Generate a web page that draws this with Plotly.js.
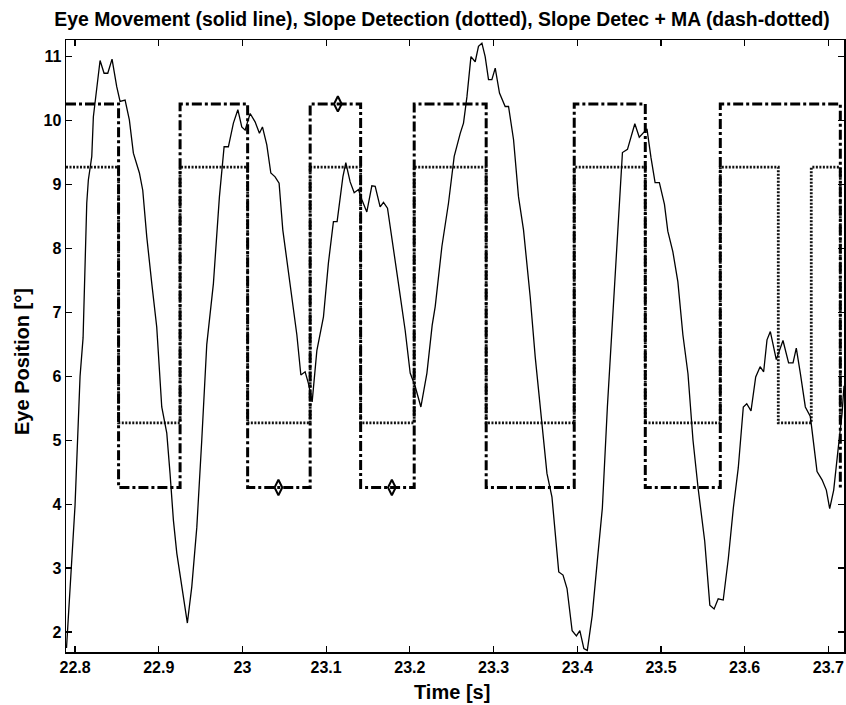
<!DOCTYPE html>
<html>
<head>
<meta charset="utf-8">
<script src="https://cdn.plot.ly/plotly-3.0.1.min.js"></script>
<style>html,body{margin:0;padding:0;background:#fff;}#chart{width:846px;height:705px;}</style>
</head>
<body>
<div id="chart"></div>
<script>
// Eye movement (solid line)
const eyeTime = [22.7898,22.8000,22.8060,22.8096,22.8140,22.8159,22.8200,22.8219,22.8299,22.8347,22.8391,22.8442,22.8498,22.8538,22.8598,22.8649,22.8697,22.8769,22.8809,22.8857,22.8917,22.8976,22.9036,22.9096,22.9135,22.9175,22.9216,22.9294,22.9342,22.9395,22.9455,22.9514,22.9574,22.9653,22.9725,22.9781,22.9832,22.9892,22.9945,22.9992,23.0032,23.0092,23.0151,23.0203,23.0239,23.0291,23.0339,23.0390,23.0438,23.0482,23.0570,23.0650,23.0698,23.0749,23.0788,23.0833,23.0889,23.0968,23.1027,23.1087,23.1131,23.1167,23.1200,23.1235,23.1287,23.1335,23.1386,23.1427,23.1486,23.1546,23.1586,23.1645,23.1685,23.1733,23.1785,23.1864,23.1944,23.2004,23.2064,23.2132,23.2204,23.2267,23.2303,23.2383,23.2462,23.2530,23.2602,23.2641,23.2682,23.2730,23.2781,23.2820,23.2861,23.2900,23.2940,23.2980,23.3020,23.3071,23.3139,23.3179,23.3239,23.3298,23.3358,23.3438,23.3498,23.3558,23.3638,23.3698,23.3757,23.3779,23.3830,23.3878,23.3939,23.3990,23.4031,23.4079,23.4120,23.4179,23.4239,23.4300,23.4360,23.4400,23.4460,23.4540,23.4600,23.4641,23.4688,23.4741,23.4801,23.4833,23.4881,23.4930,23.4981,23.5042,23.5082,23.5142,23.5202,23.5262,23.5323,23.5383,23.5443,23.5523,23.5584,23.5635,23.5684,23.5744,23.5805,23.5865,23.5924,23.5984,23.6025,23.6076,23.6132,23.6185,23.6227,23.6267,23.6307,23.6378,23.6458,23.6525,23.6578,23.6617,23.6665,23.6725,23.6785,23.6824,23.6865,23.6925,23.6976,23.7016,23.7064,23.7111,23.7164,23.7187];
const eyePos = [1.75,3.98,6.0,6.6,8.71,9.07,9.44,10.06,10.94,10.74,10.74,10.96,10.53,10.30,10.32,10.01,9.49,9.18,8.91,8.18,7.45,6.77,5.52,5.11,4.48,3.75,3.23,2.60,2.14,2.71,3.64,5.0,6.5,7.45,8.81,9.59,9.59,9.96,10.17,9.90,9.85,10.11,9.98,9.80,9.90,9.62,9.18,9.12,9.02,8.29,7.45,6.65,6.02,6.07,5.89,5.60,6.4,6.93,7.77,8.42,8.42,8.81,9.12,9.34,9.04,8.87,8.92,8.76,8.57,8.98,8.97,8.65,8.72,8.63,8.18,7.45,6.72,6.05,5.84,5.52,6.05,6.8,7.09,8.03,8.71,9.44,9.80,9.96,10.37,11.0,10.92,11.16,11.21,11.0,10.64,10.64,10.82,10.43,10.22,10.22,9.70,8.81,8.29,7.24,6.3,5.52,4.48,4.11,3.33,2.94,2.89,2.68,2.02,1.94,2.02,1.74,1.71,2.26,3.10,3.94,5.52,6.4,7.74,9.50,9.55,9.74,9.95,9.74,9.82,9.87,9.42,9.03,9.03,8.69,8.27,7.95,7.48,6.65,6.04,5.0,4.26,3.42,2.42,2.36,2.52,2.50,3.15,3.94,4.57,5.52,5.57,5.46,5.99,6.15,6.07,6.57,6.70,6.26,6.56,6.21,6.21,6.44,6.05,5.52,5.37,4.95,4.51,4.38,4.22,3.93,4.22,4.79,5.42,5.85];

// Slope detection (dotted) step signal
const slopeTime = [22.7892,22.8520,22.9255,23.0062,23.0809,23.1412,23.2052,23.2912,23.3964,23.4813,23.5709,23.6402,23.6796,23.7143];
const slopeVal  = [9.27,5.27,9.27,5.27,9.27,5.27,9.27,5.27,9.27,5.27,9.27,5.27,9.27,5.27];

// Slope detection + MA (dash-dotted) step signal
const maTime = [22.7892,22.8520,22.9255,23.0062,23.0809,23.1412,23.2052,23.2912,23.3964,23.4813,23.5709,23.7143];
const maVal  = [10.26,4.26,10.26,4.26,10.26,4.26,10.26,4.26,10.26,4.26,10.26,4.26];

// Diamond markers
const diamondTime = [23.043,23.114,23.1785];
const diamondVal  = [4.26,10.26,4.26];

const xTicks = [22.8,22.9,23.0,23.1,23.2,23.3,23.4,23.5,23.6,23.7];
const xTickText = ['22.8','22.9','23','23.1','23.2','23.3','23.4','23.5','23.6','23.7'];
const yTicks = [2,3,4,5,6,7,8,9,10,11];

const traces = [
  {x: slopeTime, y: slopeVal, mode:'lines', line:{shape:'hv', color:'#111', width:2.8, dash:'2px,1.5px'}, hoverinfo:'skip'},
  {x: maTime, y: maVal, mode:'lines', line:{shape:'hv', color:'#000', width:3, dash:'10px,3px,3px,3px'}, hoverinfo:'skip'},
  {x: eyeTime, y: eyePos, mode:'lines', line:{color:'#000', width:1.3}},
  {x: diamondTime, y: diamondVal, mode:'markers', marker:{symbol:'diamond-tall-open', size:11, color:'#000', line:{width:2, color:'#000'}}}
];

const fam = 'Liberation Sans, Arial, sans-serif';
const axFont = {family:fam, size:16, color:'#000', weight:'bold'};
const layout = {
  width:846, height:705,
  margin:{l:66, r:2, t:40, b:53},
  paper_bgcolor:'#fff', plot_bgcolor:'#fff',
  showlegend:false,
  title:{text:'Eye Movement (solid line), Slope Detection (dotted), Slope Detec + MA (dash-dotted)',
    font:{family:fam, size:19.4, color:'#000', weight:'bold'},
    xref:'container', x:0.5225, xanchor:'center', yref:'container', y:1-19/705, yanchor:'middle'},
  xaxis:{range:[22.7892,23.7187], tickvals:xTicks, ticktext:xTickText, ticks:'inside', ticklen:6, tickwidth:1.2, tickcolor:'#000',
    showline:true, linecolor:'#000', linewidth:1.5, mirror:'ticks', showgrid:false, zeroline:false,
    tickfont:axFont},
  yaxis:{range:[1.687,11.26], tickvals:yTicks, ticks:'inside', ticklen:6, tickwidth:1.2, tickcolor:'#000',
    showline:true, linecolor:'#000', linewidth:1.5, mirror:'ticks', showgrid:false, zeroline:false,
    tickfont:axFont},
  annotations:[
    {text:'Time [s]', xref:'paper', yref:'paper', x:(452-66)/778, y:-(692-652)/612, xanchor:'center', yanchor:'middle', showarrow:false,
     font:{family:fam, size:20, color:'#000', weight:'bold'}},
    {text:'Eye Position [°]', xref:'paper', yref:'paper', x:-(66-22)/778, y:(652-362)/612, xanchor:'center', yanchor:'middle', textangle:-90, showarrow:false,
     font:{family:fam, size:20, color:'#000', weight:'bold'}}
  ]
};
Plotly.newPlot('chart', traces, layout, {displayModeBar:false, staticPlot:true});
</script>
</body>
</html>
